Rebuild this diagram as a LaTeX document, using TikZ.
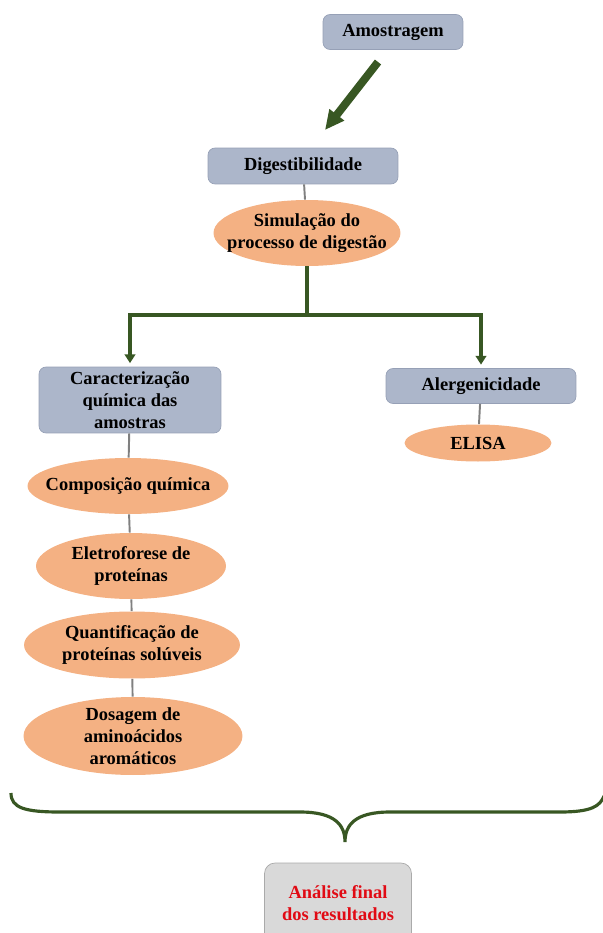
\documentclass[tikz,border=0pt]{standalone}
\usepackage{fontspec}
\setmainfont{Liberation Serif}
\usepackage{tikz}
\usetikzlibrary{shapes.geometric}
\usetikzlibrary{arrows.meta}
\definecolor{boxblue}{RGB}{172,182,202}
\definecolor{boxline}{RGB}{150,160,182}
\definecolor{peach}{RGB}{244,177,131}
\definecolor{leaf}{RGB}{56,87,35}
\definecolor{greybox}{RGB}{217,217,217}
\definecolor{greyline}{RGB}{170,170,170}
\definecolor{finalred}{RGB}{225,10,20}

\begin{document}
\begin{tikzpicture}[x=0.02cm, y=-0.02cm]
	\useasboundingbox (0,0) rectangle (602,933);
	% boxes
	\begin{scope} [every node/.style={rectangle, rounded corners=4pt, draw=boxline, fill=boxblue, align=center, inner sep=0pt, font=\fontsize{10.5}{12.5}\selectfont\bfseries}]
		\node[minimum width=2.8cm, minimum height=0.7cm] (amos) at (393,32) {Amostragem};
		\node[minimum width=3.8cm, minimum height=0.72cm] (dig) at (303,166) {Digestibilidade};
		\node[minimum width=3.64cm, minimum height=1.32cm] (carac) at (130,400) {Caracterização\\química das\\amostras};
		\node[minimum width=3.8cm, minimum height=0.7cm] (alerg) at (481,386) {Alergenicidade};
		\node[minimum width=2.94cm, minimum height=1.6cm, fill=greybox, draw=greyline, rounded corners=6pt, text=finalred] (final) at (338,903) {Análise final\\dos resultados};
	\end{scope}
	% ovals
	\begin{scope} [every node/.style={ellipse, fill=peach, align=center, inner xsep=-2cm, inner ysep=-1cm, font=\fontsize{10.5}{12.5}\selectfont\bfseries}]
		\node[minimum width=3.74cm, minimum height=1.32cm] (sim) at (307,233) {Simulação do\\processo de digestão};
		\node[minimum width=2.94cm, minimum height=0.74cm] (elisa) at (478,443) {ELISA};
		\node[minimum width=4.02cm, minimum height=1.12cm] (comp) at (128,486) {Composição química};
		\node[minimum width=3.8cm, minimum height=1.32cm] (eletro) at (131,566) {Eletroforese de\\proteínas};
		\node[minimum width=4.32cm, minimum height=1.34cm] (quant) at (132,645) {Quantificação de\\proteínas solúveis};
		\node[minimum width=4.38cm, minimum height=1.56cm] (dos) at (133,736) {Dosagem de\\aminoácidos\\aromáticos};
	\end{scope}
	% grey links
	\draw[gray, line width=1.1pt] (dig) -- (sim);
	\draw[gray, line width=1.1pt] (alerg) -- (elisa);
	\draw[gray, line width=1.1pt] (carac) -- (comp);
	\draw[gray, line width=1.1pt] (comp) -- (eletro);
	\draw[gray, line width=1.1pt] (eletro) -- (quant);
	\draw[gray, line width=1.1pt] (quant) -- (dos);
	% green flow
	\coordinate (a1) at (378,62);
	\coordinate (a2) at (325,130);
	\coordinate (split) at (307,315);
	\draw[leaf, line width=4.5pt, -{Triangle[length=11pt, width=10pt]}] (a1) -- (a2);
	\draw[leaf, line width=2.2pt] (sim.south) -- (split);
	\draw[leaf, line width=1.8pt, shorten >=2pt, -{Triangle[length=5pt, width=6pt]}] (split) -| (carac.north);
	\draw[leaf, line width=1.8pt, shorten >=2pt, -{Triangle[length=5pt, width=6pt]}] (split) -| (alerg.north);
	% brace
	\draw[leaf, line width=1.8pt] (11,793) .. controls (11,808) and (25,812) .. (60,812) -- (300,812) .. controls (335,812) and (345,825) .. (345,842) .. controls (345,825) and (355,812) .. (390,812) -- (560,812) .. controls (592,812) and (600,806) .. (604,796);
\end{tikzpicture}
\end{document}
